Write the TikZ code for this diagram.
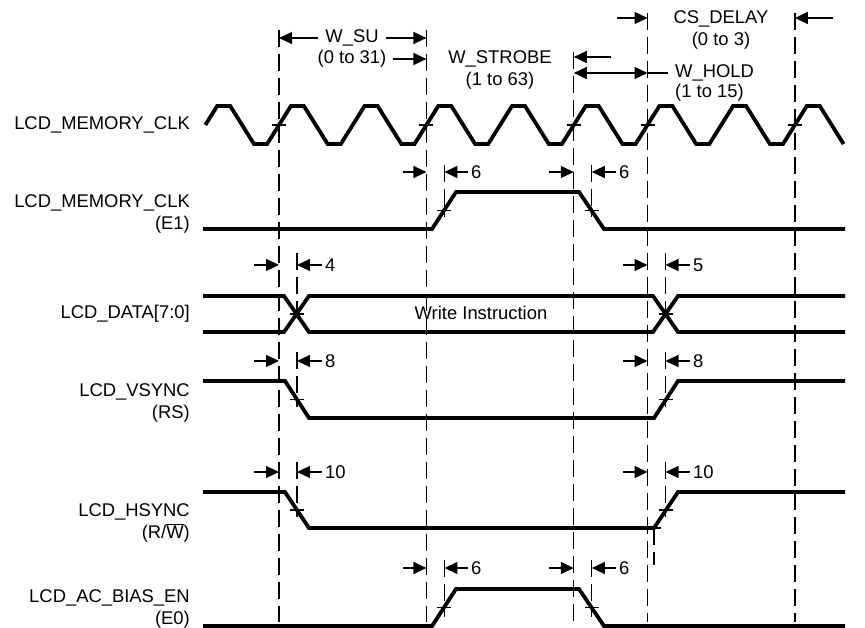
\documentclass[tikz,border=0pt]{standalone}
\usepackage{fontspec}
\setmainfont{Liberation Sans}
\usetikzlibrary{arrows.meta}

\begin{document}
\begin{tikzpicture}[
    x=1pt,y=-1pt,
    font=\fontsize{18.4}{21.5}\selectfont,
    sig/.style={line width=3.8pt},
    guide/.style={line width=1.2pt, dash pattern=on 17pt off 7pt},
    crossmark/.style={line width=1.2pt},
    dim/.style={-{Triangle[length=13pt,width=12pt]}, line width=1.3pt},
    dimboth/.style={{Triangle[length=13pt,width=12pt]}-{Triangle[length=13pt,width=12pt]}, line width=1.3pt},
    signame/.style={align=right, anchor=east, inner sep=0pt},
    caption/.style={align=center, inner xsep=7pt, inner ysep=0pt},
    delay/.style={anchor=west, inner xsep=3pt, inner ysep=0pt}
  ]
    \useasboundingbox (0,0) rectangle (865,628);

    \node[signame] (clk) at (190,125) {LCD\_MEMORY\_CLK};
    \node[signame] (e1) at (190,214) {LCD\_MEMORY\_CLK\\(E1)};
    \node[signame] (data) at (190,314) {LCD\_DATA[7:0]};
    \node[signame] (rs) at (190,403) {LCD\_VSYNC\\(RS)};
    \node[signame] (rw) at (190,523) {LCD\_HSYNC\\(R/$\smash{\overline{\mbox{W}}}$)};
    \node[signame] (e0) at (190,609) {LCD\_AC\_BIAS\_EN\\(E0)};

    \draw[guide] (279,30) -- (279,622);
    \draw[guide] (426.4,30) -- (426.4,622);
    \draw[guide] (573.8,52) -- (573.8,622);
    \draw[guide] (647.5,13) -- (647.5,622);
    \draw[guide] (794.9,13) -- (794.9,622);

    \draw[guide] (444.4,165) -- (444.4,217);
    \draw[guide] (591.8,165) -- (591.8,217);
    \draw[guide] (297,253) -- (297,322);
    \draw[guide] (665.5,253) -- (665.5,322);
    \draw[guide] (297,352) -- (297,407);
    \draw[guide] (665.5,352) -- (665.5,407);
    \draw[guide] (297,462) -- (297,517);
    \draw[guide] (665.5,462) -- (665.5,517);
    \draw[guide] (654,528) -- (654,565);
    \draw[guide] (444.4,560) -- (444.4,617);
    \draw[guide] (591.8,560) -- (591.8,617);

    \draw[sig] (205.3,125) -- ++(11.9,-19)
      -- ++(13,0) -- ++(23.8,38) -- ++(13.1,0) -- ++(23.8,-38)
      -- ++(13,0) -- ++(23.8,38) -- ++(13.1,0) -- ++(23.8,-38)
      -- ++(13,0) -- ++(23.8,38) -- ++(13.1,0) -- ++(23.8,-38)
      -- ++(13,0) -- ++(23.8,38) -- ++(13.1,0) -- ++(23.8,-38)
      -- ++(13,0) -- ++(23.8,38) -- ++(13.1,0) -- ++(23.8,-38)
      -- ++(13,0) -- ++(23.8,38) -- ++(13.1,0) -- ++(23.8,-38)
      -- ++(13,0) -- ++(23.8,38) -- ++(13.1,0) -- ++(23.8,-38)
      -- ++(13,0) -- ++(23.8,38) -- ++(13.1,0) -- ++(23.8,-38)
      -- ++(13,0) -- ++(23.8,38);
    \draw[sig] (203,229) -- (432,229) -- (456,192) -- (579,192) -- (604,229) -- (845,229);
    \draw[sig] (203,296) -- (284,296) -- (309,332) -- (653,332) -- (678,296) -- (845,296);
    \draw[sig] (203,332) -- (284,332) -- (309,296) -- (653,296) -- (678,332) -- (845,332);
    \draw[sig] (203,381) -- (285,381) -- (309,418) -- (654,418) -- (678,381) -- (845,381);
    \draw[sig] (203,492) -- (285,492) -- (309,528) -- (654,528) -- (678,492) -- (845,492);
    \draw[sig] (203,626) -- (432,626) -- (456,589) -- (579,589) -- (604,626) -- (845,626);

    \node (write) at (481,313) {Write Instruction};

    \draw[crossmark] (272,125) -- ++(14,0) (419.4,125) -- ++(14,0) (566.8,125) -- ++(14,0)
      (640.5,125) -- ++(14,0) (787.9,125) -- ++(14,0);
    \draw[crossmark] (437.4,210.5) -- ++(14,0) (584.8,210.5) -- ++(14,0);
    \draw[crossmark] (290,314) -- ++(14,0) (658.5,314) -- ++(14,0);
    \draw[crossmark] (290,399.5) -- ++(14,0) (658.5,399.5) -- ++(14,0);
    \draw[crossmark] (290,510) -- ++(14,0) (658.5,510) -- ++(14,0) (647,528) -- ++(14,0);
    \draw[crossmark] (437.4,607.5) -- ++(14,0) (584.8,607.5) -- ++(14,0);

    \node[caption] (wsu) at (352,38) {W\_SU};
    \node[caption] (wsurange) at (352,59) {(0 to 31)};
    \draw[dim] (wsu.west) -- (279,38);
    \draw[dim] (wsu.east) -- (426.4,38);
    \draw[dim] (wsurange.east) -- (426.4,59);

    \node[caption] (wstrobe) at (500,70) {W\_STROBE\\(1 to 63)};
    \draw[dim] (611,57) -- (573.8,57);

    \node[caption, anchor=west] (whold) at (668,73) {W\_HOLD};
    \node[caption, anchor=west] (wholdrange) at (668,93) {(1 to 15)};
    \draw[dimboth] (573.8,73) -- (647.5,73);
    \draw[line width=1.3pt] (647.5,73) -- (whold.west);

    \node[caption] (csdelay) at (721,19) {CS\_DELAY};
    \node[caption] (csrange) at (721,41) {(0 to 3)};
    \draw[dim] (617,18) -- (647.5,18);
    \draw[dim] (833,18) -- (794.9,18);

    \draw[dim] (403,172) -- (426.4,172);
    \node[delay] (e1on) at (468,172) {6};
    \draw[dim] (e1on.west) -- (444.4,172);
    \draw[dim] (549,172) -- (573.8,172);
    \node[delay] (e1off) at (616,172) {6};
    \draw[dim] (e1off.west) -- (591.8,172);

    \draw[dim] (254,265) -- (279,265);
    \node[delay] (datasu) at (322,265) {4};
    \draw[dim] (datasu.west) -- (297,265);
    \draw[dim] (623,265) -- (647.5,265);
    \node[delay] (datahd) at (690,265) {5};
    \draw[dim] (datahd.west) -- (665.5,265);

    \draw[dim] (254,361) -- (279,361);
    \node[delay] (rssu) at (322,361) {8};
    \draw[dim] (rssu.west) -- (297,361);
    \draw[dim] (623,361) -- (647.5,361);
    \node[delay] (rshd) at (690,361) {8};
    \draw[dim] (rshd.west) -- (665.5,361);

    \draw[dim] (254,472) -- (279,472);
    \node[delay] (rwsu) at (322,472) {10};
    \draw[dim] (rwsu.west) -- (297,472);
    \draw[dim] (623,472) -- (647.5,472);
    \node[delay] (rwhd) at (690,472) {10};
    \draw[dim] (rwhd.west) -- (665.5,472);

    \draw[dim] (403,568) -- (426.4,568);
    \node[delay] (e0on) at (468,568) {6};
    \draw[dim] (e0on.west) -- (444.4,568);
    \draw[dim] (549,568) -- (573.8,568);
    \node[delay] (e0off) at (616,568) {6};
    \draw[dim] (e0off.west) -- (591.8,568);
  \end{tikzpicture}
\end{document}
